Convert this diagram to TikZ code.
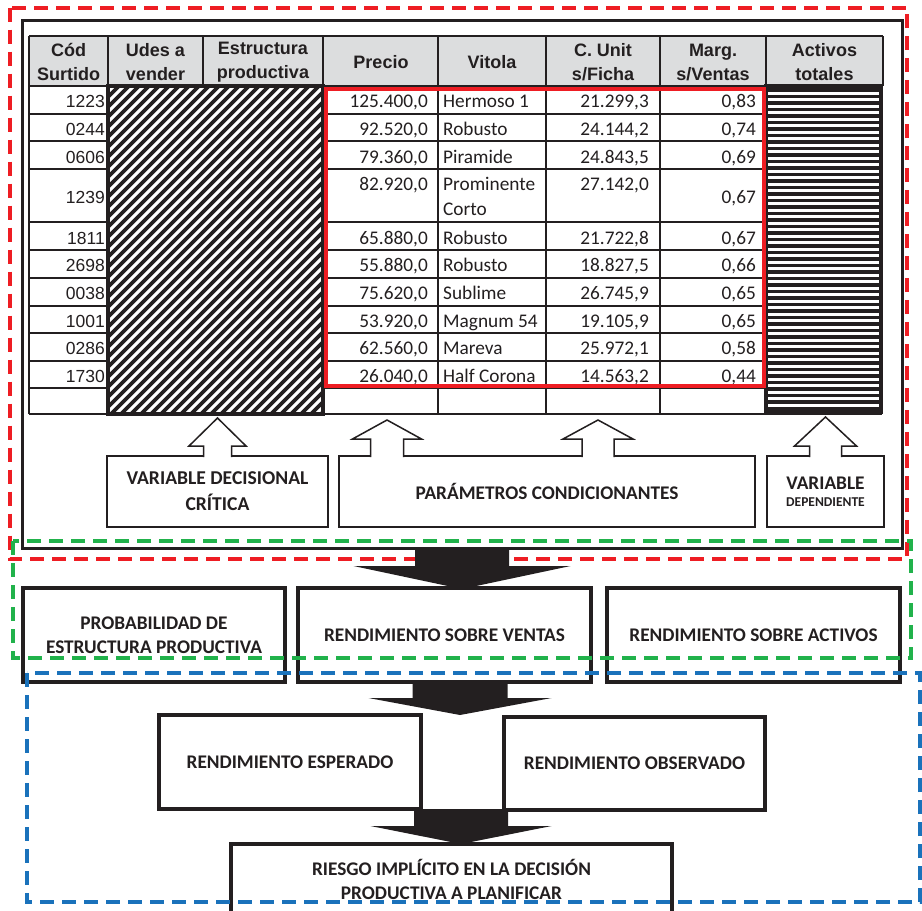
\documentclass[tikz,border=0pt]{standalone}
\usepackage{fontspec}
\setmainfont{Carlito}
\newfontfamily\arialf{Liberation Sans}
\usetikzlibrary{calc}
\definecolor{ink}{HTML}{231F20}
\definecolor{hdr}{HTML}{DCDDDE}
\definecolor{rd}{HTML}{EE1D23}
\definecolor{gr}{HTML}{21B24B}
\definecolor{bl}{HTML}{1A72BB}
\newcommand\drow[7]{%
  \node[cod] (cod#1) at (105,#2) {#3};
  \node[num] (pre#1) at (428,#2) {#4};
  \node[vit] (vit#1) at (443,#2) {#5};
  \node[num] (cu#1) at (649,#2) {#6};
  \node[num] (mg#1) at (756,#2) {#7};}
\newcommand\hollowup[5]{%
  \draw[hol] ([xshift=-#2pt]#1) -- ++(0,-#4) -- ++({-(#3-#2)},0) -- ++(#3,-#5)
    -- ++(#3,#5) -- ++({-(#3-#2)},0) -- ++(0,#4);}
\newcommand\blockdown[5]{% #1 start, #2 end(tip), #3 shaft half, #4 head half, #5 head length
  \fill[ink] ($(#1)+(-#3,0)$) -- ($(#2)+(-#3,-#5)$) -- ($(#2)+(-#4,-#5)$) -- (#2)
    -- ($(#2)+(#4,-#5)$) -- ($(#2)+(#3,-#5)$) -- ($(#1)+(#3,0)$) -- cycle;}
\begin{document}
\begin{tikzpicture}[x=1pt,y=-1pt,
  gridl/.style={draw=ink,line width=2.7pt},
  dashbox/.style={line width=4pt,dash pattern=on 14pt off 8pt},
  lbl/.style={font=\bfseries\fontsize{19.3}{24}\selectfont,text=ink,align=center,inner sep=0pt},
  box/.style={draw=ink,line width=2pt,fill=white,outer sep=0pt,inner sep=0pt},
  thickbox/.style={draw=ink,line width=3.2pt,fill=white,outer sep=0pt,inner sep=0pt},
  hol/.style={draw=ink,line width=1.5pt,fill=white,line join=miter},
  hd/.style={font=\arialf\bfseries\fontsize{18}{24}\selectfont,text=ink,align=center,inner sep=0pt},
  cod/.style={font=\arialf\fontsize{17.5}{20}\selectfont,text=ink,anchor=base east,inner sep=0pt},
  num/.style={font=\fontsize{19.3}{25}\selectfont,text=ink,anchor=base east,inner sep=0pt},
  vit/.style={font=\fontsize{19.3}{25}\selectfont,text=ink,anchor=base west,inner sep=0pt},
]
\useasboundingbox[fill=white] (0,0) rectangle (922,911);

% outer frame
\node[draw=ink,line width=3pt,minimum width=880pt,minimum height=528pt,inner sep=0pt,outer sep=0pt] (frame) at (462,284) {};

% header background
\fill[hdr] (29,36) rectangle (883,86);

% hatched block
\begin{scope}
  \clip (108,86) rectangle (323,414);
  \foreach \i in {0,...,58} \draw[ink,line width=3.6pt] ({-225+10*\i},420) -- ++(340,-340);
\end{scope}
\draw[ink,line width=4pt] (108,86) rectangle (323,414);

% striped block
\begin{scope}
  \clip (766,86) rectangle (882,414);
  \foreach \k in {0,...,50} \draw[ink,line width=3.4pt] (766,{90+6.5*\k}) -- (882,{90+6.5*\k});
\end{scope}
\draw[ink,line width=4.5pt] (766,86) rectangle (881,412);

% grid
\draw[gridl] (29,36) -- (883,36);
\draw[gridl] (29,86) -- (883,86);
\foreach \yy in {114,141,169,222,250,278,306,333,361,388,414}{
  \draw[gridl] (29,\yy) -- (108,\yy);
  \draw[gridl] (323,\yy) -- (766,\yy);
}
\foreach \xx in {29,108,323,438,546,660,766} \draw[gridl] (\xx,36) -- (\xx,414);
\draw[gridl] (203,36) -- (203,86);
\draw[gridl] (883,36) -- (883,86);

% header texts
\node[hd] (hcod) at (68.5,62) {Cód\\Surtido};
\node[hd] (hudes) at (155.5,62) {Udes a\\vender};
\node[hd] (hest) at (263,62) {Estructura\\productiva};
\node[hd] (hpre) at (381,62) {Precio};
\node[hd] (hvit) at (492,62) {Vitola};
\node[hd] (hcu) at (603,62) {C. Unit\\s/Ficha};
\node[hd] (hmg) at (713,62) {Marg.\\s/Ventas};
\node[hd] (hact) at (824.5,62) {Activos\\totales};

% data rows
\drow{1}{107}{1223}{125.400,0}{Hermoso 1}{21.299,3}{0,83}
\drow{2}{135}{0244}{92.520,0}{Robusto}{24.144,2}{0,74}
\drow{3}{163}{0606}{79.360,0}{Piramide}{24.843,5}{0,69}
\node[cod] (cod4) at (105,203) {1239};
\node[num] (pre4) at (428,190) {82.920,0};
\node[vit] (vit4a) at (443,190) {Prominente};
\node[vit] (vit4b) at (443,215) {Corto};
\node[num] (cu4) at (649,190) {27.142,0};
\node[num] (mg4) at (756,203) {0,67};
\drow{5}{244}{1811}{65.880,0}{Robusto}{21.722,8}{0,67}
\drow{6}{271}{2698}{55.880,0}{Robusto}{18.827,5}{0,66}
\drow{7}{299}{0038}{75.620,0}{Sublime}{26.745,9}{0,65}
\drow{8}{327}{1001}{53.920,0}{Magnum 54}{19.105,9}{0,65}
\drow{9}{354}{0286}{62.560,0}{Mareva}{25.972,1}{0,58}
\drow{10}{382}{1730}{26.040,0}{Half Corona}{14.563,2}{0,44}

% red parameter frame
\draw[rd,line width=3.5pt] (326,89) rectangle (764,386);

% label boxes
\node[box,lbl,font=\bfseries\fontsize{19.6}{26}\selectfont,minimum width=221pt,minimum height=71pt] (vdc) at (217.5,491.5) {VARIABLE DECISIONAL\\CRÍTICA};
\node[box,lbl,minimum width=416pt,minimum height=71pt] (pc) at (547,491.5) {PARÁMETROS CONDICIONANTES};
\node[box,lbl,minimum width=117pt,minimum height=71pt] (vd) at (825.5,491.5) {VARIABLE\\[-7pt]{\fontsize{13.5}{16}\selectfont DEPENDIENTE}};

% hollow arrows
\coordinate (a1) at ($(vdc.north)+(0,1)$);
\coordinate (a2) at ($(pc.north west)+(48,1)$);
\coordinate (a3) at ($(pc.north west)+(259,1)$);
\coordinate (a4) at ($(vd.north)+(0,1)$);
\hollowup{a1}{14}{28.5}{11}{28}
\hollowup{a2}{16.5}{34.5}{18}{19}
\hollowup{a3}{16}{35}{18}{19}
\hollowup{a4}{16}{31}{11}{29}

% red dashed region
\draw[rd,dashbox] (9.5,7.5) rectangle (907,559);

% second row
\node[thickbox,lbl,font=\bfseries\fontsize{19.3}{23.5}\selectfont,minimum width=262pt,minimum height=94pt] (prob) at (154,635) {PROBABILIDAD DE\\ESTRUCTURA PRODUCTIVA};
\node[thickbox,lbl,minimum width=293pt,minimum height=94pt] (rsv) at (444.5,635) {RENDIMIENTO SOBRE VENTAS};
\node[thickbox,lbl,minimum width=293pt,minimum height=94pt] (rsa) at (753.5,635) {RENDIMIENTO SOBRE ACTIVOS};

% black arrow A
\coordinate (A0) at (frame.south);
\coordinate (A1) at ($(frame.south |- rsv.north)+(0,1)$);
\blockdown{A0}{A1}{47}{108.5}{23}
\draw[ink,line width=3.2pt] (rsv.north west) -- (rsv.north east);

% green dashed region
\draw[gr,dashbox] (13,541) rectangle (911,658);

% third row
\node[thickbox,lbl,minimum width=262pt,minimum height=94pt] (resp) at (290,762) {RENDIMIENTO ESPERADO};
\node[thickbox,lbl,minimum width=261pt,minimum height=93pt] (robs) at (634.5,763.5) {RENDIMIENTO OBSERVADO};

% black arrow B
\coordinate (B0) at ($(frame.south |- rsv.south)+(-2,0)$);
\coordinate (B1) at ($(frame.south |- resp.north)+(-2,0)$);
\blockdown{B0}{B1}{47.5}{91.5}{17}

% riesgo box
\node[thickbox,minimum width=441pt,minimum height=116pt] (riesgo) at (451.5,902) {};
\node[lbl] (riesgotxt) at (451.5,879) {RIESGO IMPLÍCITO EN LA DECISIÓN\\PRODUCTIVA A PLANIFICAR};

% black arrow C
\coordinate (C0) at ($(frame.south |- resp.south)+(-1,0)$);
\coordinate (C1) at ($(frame.south |- riesgo.north)+(-1,0)$);
\blockdown{C0}{C1}{47}{90.5}{18}
\draw[ink,line width=3.2pt] (riesgo.north west) -- (riesgo.north east);

% blue dashed region
\draw[bl,dashbox] (27,673) rectangle (920,902);
\end{tikzpicture}
\end{document}
